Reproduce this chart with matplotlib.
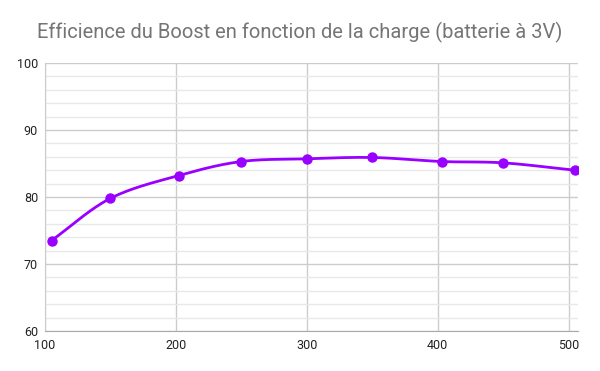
import numpy as np
import matplotlib.pyplot as plt
from matplotlib.ticker import MultipleLocator

# charge (mA) et efficience (%)
charge = [105, 150, 202, 250, 300, 350, 403, 450, 505]
efficience = [73.5, 79.8, 83.2, 85.3, 85.7, 85.9, 85.3, 85.1, 84.0]

plt.rcParams['font.family'] = ['Roboto', 'DejaVu Sans']


def smooth(x, y, n=30):
    # Catmull-Rom pour la courbe lissée
    x = np.asarray(x, float)
    y = np.asarray(y, float)
    px = np.concatenate([[2 * x[0] - x[1]], x, [2 * x[-1] - x[-2]]])
    py = np.concatenate([[2 * y[0] - y[1]], y, [2 * y[-1] - y[-2]]])
    xs, ys = [], []
    t = np.linspace(0, 1, n)
    for i in range(1, len(px) - 2):
        for P, out in ((px, xs), (py, ys)):
            p0, p1, p2, p3 = P[i - 1], P[i], P[i + 1], P[i + 2]
            out.extend(0.5 * (2 * p1 + (-p0 + p2) * t
                              + (2 * p0 - 5 * p1 + 4 * p2 - p3) * t ** 2
                              + (-p0 + 3 * p1 - 3 * p2 + p3) * t ** 3))
    return xs, ys


fig = plt.figure(figsize=(6, 3.71), dpi=100)
ax = fig.add_axes([0.075, 0.108, 0.888, 0.722])

sx, sy = smooth(charge, efficience)
ax.plot(sx, sy, color='#9900ff', lw=2, zorder=3)
ax.plot(charge, efficience, 'o', color='#9900ff', ms=6.5, zorder=4)

ax.set_xlim(100, 507)
ax.set_ylim(60, 100)
ax.xaxis.set_major_locator(MultipleLocator(100))
ax.yaxis.set_major_locator(MultipleLocator(10))
ax.yaxis.set_minor_locator(MultipleLocator(2))
ax.grid(True, which='major', color='#cccccc', lw=1)
ax.grid(True, which='minor', axis='y', color='#e8e8e8', lw=1)
ax.set_axisbelow(True)
for s in ['top', 'right']:
    ax.spines[s].set_visible(False)
ax.spines['left'].set_color('#cccccc')
ax.spines['bottom'].set_color('#aaaaaa')
ax.tick_params(which='both', length=0, labelsize=9, labelcolor='#222222')
ax.tick_params(axis='x', pad=6)
ax.tick_params(axis='y', pad=5)

fig.suptitle('Efficience du Boost en fonction de la charge (batterie à 3V)',
             x=0.5, y=0.913, va='center', fontsize=14.5, color='#757575')

plt.savefig('out.png', dpi=100)
